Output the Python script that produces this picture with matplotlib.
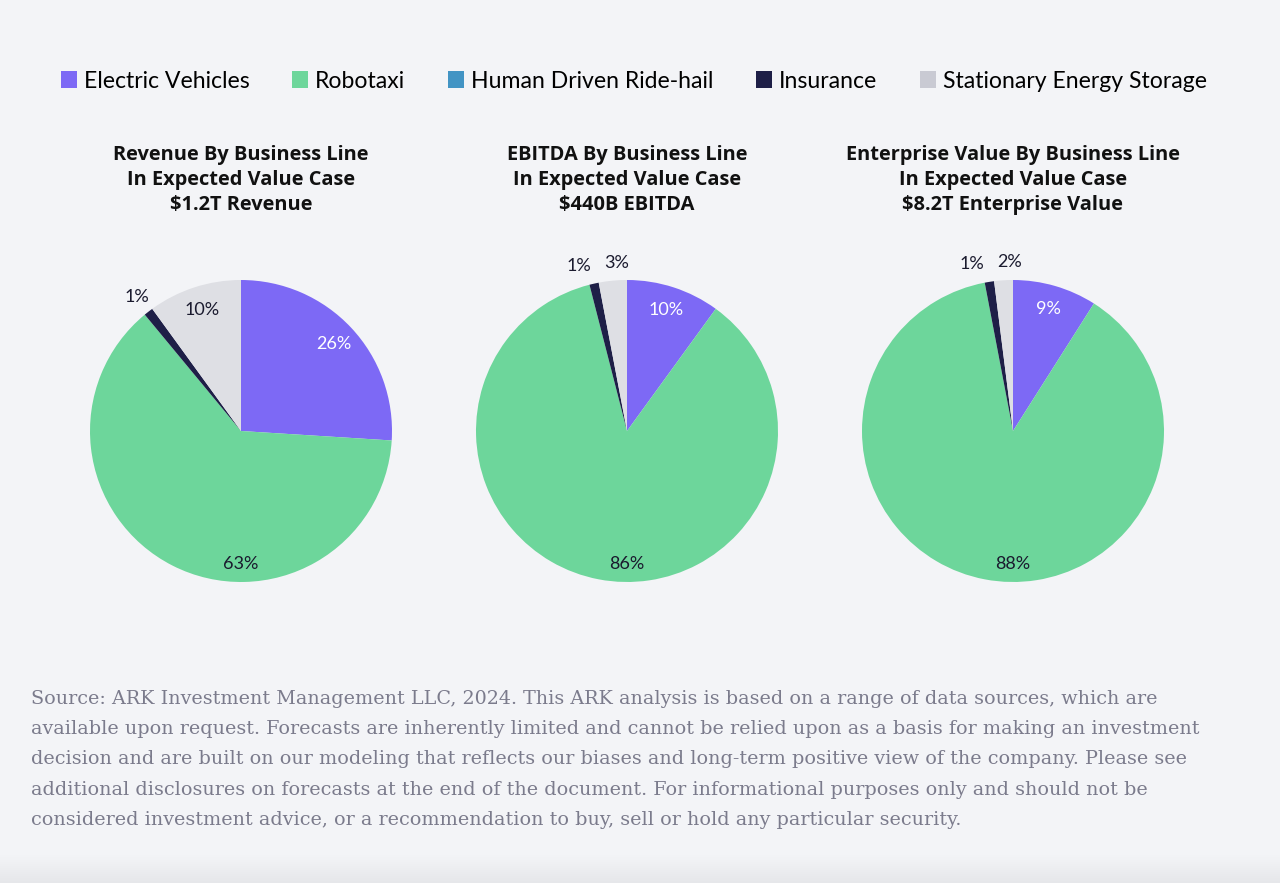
import numpy as np
import matplotlib.pyplot as plt
from matplotlib.patches import Rectangle
from matplotlib.colors import LinearSegmentedColormap

categories = ['Electric Vehicles', 'Robotaxi', 'Human Driven Ride-hail', 'Insurance', 'Stationary Energy Storage']
colors = ['#7d69f5', '#6dd69b', '#4294c4', '#1e1f47', '#dedfe4']
legend_colors = ['#7d69f5', '#6dd69b', '#4294c4', '#1e1f47', '#c9cad3']

revenue = [26, 63, 0, 1, 10]
ebitda = [10, 86, 0, 1, 3]
ent_value = [9, 88, 0, 1, 2]

titles = ['Revenue By Business Line\nIn Expected Value Case\n$1.2T Revenue',
          'EBITDA By Business Line\nIn Expected Value Case\n$440B EBITDA',
          'Enterprise Value By Business Line\nIn Expected Value Case\n$8.2T Enterprise Value']

footer = ("Source: ARK Investment Management LLC, 2024. This ARK analysis is based on a range of data sources, which are\n"
          "available upon request. Forecasts are inherently limited and cannot be relied upon as a basis for making an investment\n"
          "decision and are built on our modeling that reflects our biases and long-term positive view of the company. Please see\n"
          "additional disclosures on forecasts at the end of the document. For informational purposes only and should not be\n"
          "considered investment advice, or a recommendation to buy, sell or hold any particular security.")

W, H = 1280, 883
bg = '#f3f4f7'
fig = plt.figure(figsize=(W / 100, H / 100), dpi=100, facecolor=bg)

# bottom shading band
band = fig.add_axes([0, 0, 1, 28 / H])
band.imshow(np.linspace(0, 1, 50).reshape(-1, 1), cmap=LinearSegmentedColormap.from_list('b', [bg, '#e6e7ea']),
            aspect='auto', extent=[0, 1, 0, 1], origin='upper')
band.axis('off')

centers_x = [241, 627, 1013]
center_y = 431
radius = 151
min_gap = 0.25  # min horizontal gap between outside labels (in radius units)

for data, title, cx in zip([revenue, ebitda, ent_value], titles, centers_x):
    ax = fig.add_axes([(cx - radius) / W, (H - center_y - radius) / H, 2 * radius / W, 2 * radius / H])
    wedges, _ = ax.pie(data, colors=colors, startangle=90, counterclock=False, radius=1,
                       wedgeprops=dict(linewidth=0))
    ax.set_xlim(-1, 1)
    ax.set_ylim(-1, 1)
    ax.set_aspect('equal')
    ax.axis('off')
    big = int(np.argmax(data))
    labels = []
    for i, (w, v) in enumerate(zip(wedges, data)):
        if v == 0:
            continue
        ang = np.deg2rad((w.theta1 + w.theta2) / 2)
        if i == big:
            ang = np.deg2rad(-90)
            r = 0.88
        elif v < 5:
            r = 1.12
        else:
            r = 0.84
        labels.append([r * np.cos(ang), r * np.sin(ang), v, i, v < 5])
    # push apart outside labels that sit too close
    outs = sorted([l for l in labels if l[4]], key=lambda l: l[0])
    for a, b in zip(outs[:-1], outs[1:]):
        gap = b[0] - a[0]
        if gap < min_gap:
            shift = (min_gap - gap) / 2
            a[0] -= shift * 1.3
            b[0] += shift * 0.7
    for x, y, v, i, _ in labels:
        col = 'white' if i == 0 else '#1a1a2e'
        ax.text(x, y, f'{v}%', ha='center', va='center', fontsize=13, color=col, family='Lato')
    fig.text(cx / W, 1 - 145 / H, title, ha='center', va='top', fontsize=14.4, fontweight='bold',
             family='Open Sans', color='#111111', linespacing=1.33)

handles = [Rectangle((0, 0), 1, 1, facecolor=c, edgecolor='none') for c in legend_colors]
fig.legend(handles, categories, loc='center', bbox_to_anchor=(634 / W, 1 - 81 / H), ncol=5,
           frameon=False, handlelength=0.7, handleheight=0.7, handletextpad=0.3,
           columnspacing=1.85, prop={'family': 'Lato', 'size': 16.6})

fig.text(31 / W, 1 - 690 / H, footer, ha='left', va='top', fontsize=13.75, family='DejaVu Serif',
         color='#7b7b8c', linespacing=1.87)

fig.savefig('out.png', dpi=100, facecolor=bg)
